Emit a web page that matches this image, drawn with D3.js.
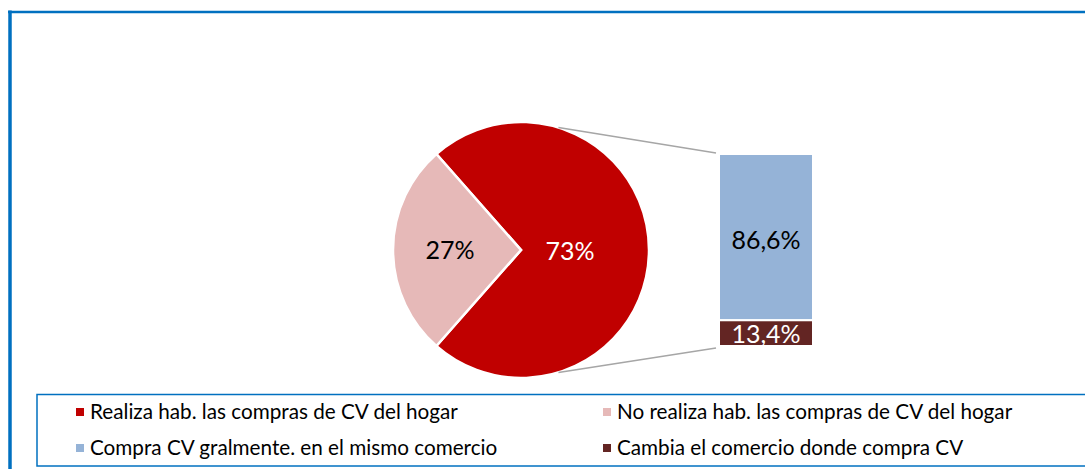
<!DOCTYPE html>
<html><head><meta charset="utf-8">
<script src="https://cdn.jsdelivr.net/npm/d3@7"></script>
<style>body{margin:0;background:#fff}svg{display:block}text{font-family:Lato,"Open Sans",sans-serif}</style>
</head><body>
<svg id="c" width="1085" height="469"></svg>
<script>
const pieLabels = ["Realiza hab. las compras de CV del hogar", "No realiza hab. las compras de CV del hogar"];
const pieValues = [73, 27];
const pieColors = ["#C00000", "#E6B9B8"];
const pieTextColors = ["#ffffff", "#000000"];
const barLabels = ["Compra CV gralmente. en el mismo comercio", "Cambia el comercio donde compra CV"];
const barValues = [86.6, 13.4];
const barColors = ["#95B3D7", "#632523"];
const barTextColors = ["#000000", "#ffffff"];
const fmtPie = v => v + "%";
const fmtBar = v => v.toFixed(1).replace(".", ",") + "%";

const svg = d3.select("#c");
// outer frame
svg.append("line").attr("x1",10).attr("x2",10).attr("y1",10.5).attr("y2",469).attr("stroke","#0070C0").attr("stroke-width",3.5);
svg.append("line").attr("x1",8).attr("x2",1085).attr("y1",12).attr("y2",12).attr("stroke","#0070C0").attr("stroke-width",2.5);

// pie
const cx = 521, cy = 250, r = 128;
const total = d3.sum(pieValues);
const mainFrac = pieValues[0] / total;
const start = Math.PI/2 - mainFrac*Math.PI;
const pie = d3.pie().sort(null).value(d=>d).startAngle(start).endAngle(start + 2*Math.PI);
const arcs = pie(pieValues);
const arc = d3.arc().innerRadius(0).outerRadius(r);
const g = svg.append("g").attr("transform",`translate(${cx},${cy})`);
g.selectAll("path").data(arcs).join("path").attr("d",arc)
  .attr("fill",(d,i)=>pieColors[i]).attr("stroke","#fff").attr("stroke-width",2.5).attr("stroke-linejoin","miter");
const labelPos = [[49, 1], [-71, 0]];
g.selectAll("text.pl").data(arcs).join("text").attr("class","pl")
  .attr("x",(d,i)=>labelPos[i][0])
  .attr("y",(d,i)=>labelPos[i][1]).attr("dy","0.35em").attr("text-anchor","middle")
  .attr("font-size",25).attr("fill",(d,i)=>pieTextColors[i]).text(d=>fmtPie(d.data));

// bar
const bx = 719, bw = 94;
const y = d3.scaleLinear().domain([0, d3.sum(barValues)]).range([154, 346]);
let acc = 0;
const stacks = barValues.map(v=>{const s={y0:acc,y1:acc+v,v};acc+=v;return s;});
const bg = svg.append("g");
bg.selectAll("rect").data(stacks).join("rect")
  .attr("x",bx).attr("width",bw).attr("y",d=>y(d.y0)).attr("height",d=>y(d.y1)-y(d.y0))
  .attr("fill",(d,i)=>barColors[i]).attr("stroke","#fff").attr("stroke-width",2);
bg.selectAll("text").data(stacks).join("text")
  .attr("x",bx+bw/2).attr("y",(d,i)=> i===0 ? (y(d.y0)+y(d.y1))/2 + 3 : (y(d.y0)+y(d.y1))/2 + 1)
  .attr("dy","0.35em").attr("text-anchor","middle").attr("font-size",25)
  .attr("fill",(d,i)=>barTextColors[i]).text(d=>fmtBar(d.v));

// connector lines
const ang = 17*Math.PI/180;
const pTop = [cx + r*Math.sin(ang), cy - r*Math.cos(ang)];
const pBot = [cx + r*Math.sin(ang), cy + r*Math.cos(ang)];
svg.append("line").attr("x1",pTop[0]).attr("y1",pTop[1]).attr("x2",bx-3).attr("y2",y(0)-1).attr("stroke","#A6A6A6").attr("stroke-width",1.5);
svg.append("line").attr("x1",pBot[0]).attr("y1",pBot[1]).attr("x2",bx-3).attr("y2",y(d3.sum(barValues))+2).attr("stroke","#A6A6A6").attr("stroke-width",1.5);

// legend
svg.append("rect").attr("x",37).attr("y",394.5).attr("width",1100).attr("height",71.5)
  .attr("fill","none").attr("stroke","#0070C0").attr("stroke-width",1.5);
const legendItems = [
  {t:pieLabels[0], c:pieColors[0], x:76, y:412},
  {t:pieLabels[1], c:pieColors[1], x:603, y:412},
  {t:barLabels[0], c:barColors[0], x:76, y:448},
  {t:barLabels[1], c:barColors[1], x:603, y:448}
];
const lg = svg.append("g").selectAll("g").data(legendItems).join("g");
lg.append("rect").attr("x",d=>d.x).attr("y",d=>d.y-4).attr("width",8).attr("height",8).attr("fill",d=>d.c);
lg.append("text").attr("x",d=>d.x+14).attr("y",d=>d.y).attr("dy","0.35em").attr("font-size",20.7).attr("fill","#000").text(d=>d.t);
</script>
</body></html>
